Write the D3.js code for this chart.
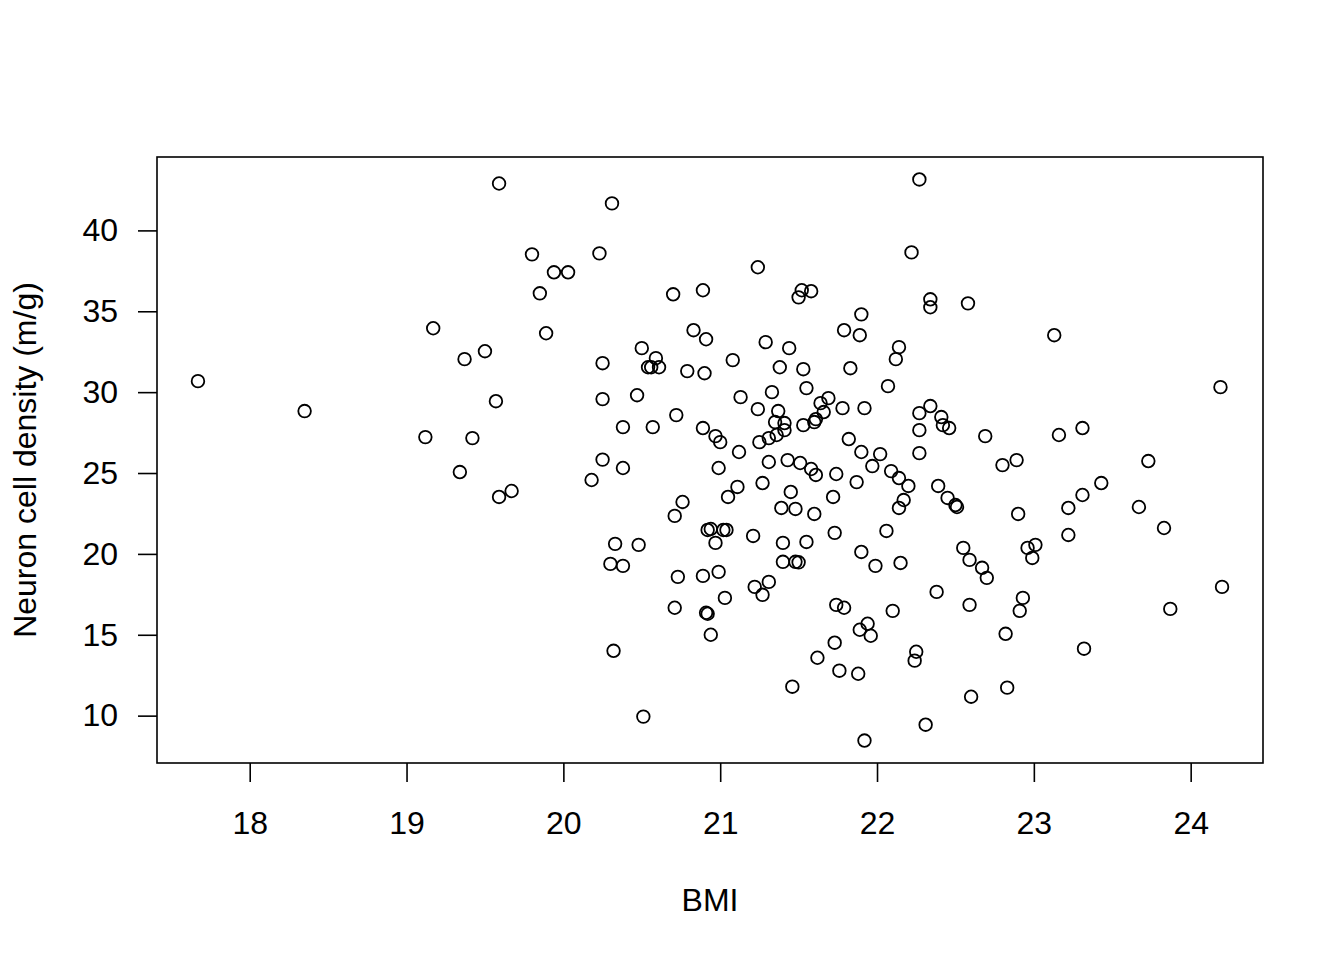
<!DOCTYPE html>
<html>
<head>
<meta charset="utf-8">
<script src="https://cdn.jsdelivr.net/npm/d3@7.9.0/dist/d3.min.js"></script>
<style>
  body { margin: 0; background: #fff; }
  svg text { font-family: "Liberation Sans", Arial, sans-serif; fill: #000; }
</style>
</head>
<body>
<svg id="chart" width="1344" height="960"></svg>
<script>
// BMI values
const bmi = [
  17.67, 18.35, 19.12, 19.17, 19.34, 19.37, 19.42, 19.50, 19.57, 19.59,
  19.59, 19.67, 19.80, 19.85, 19.89, 19.94, 20.03, 20.18, 20.23, 20.25,
  20.25, 20.25, 20.31, 20.30, 20.33, 20.32, 20.38, 20.38, 20.38, 20.47,
  20.48, 20.50, 20.51, 20.54, 20.56, 20.59, 20.61, 20.57, 20.70, 20.89,
  20.83, 20.91, 20.79, 20.90, 20.72, 20.89, 20.76, 20.71, 20.92, 20.73,
  20.89, 20.71, 20.91, 20.92, 20.94, 22.27, 22.22, 21.24, 21.52, 21.50,
  21.58, 22.34, 22.34, 22.58, 21.90, 21.79, 21.89, 21.29, 21.44, 22.14,
  21.08, 22.12, 21.38, 21.53, 21.83, 22.07, 21.33, 21.55, 21.13, 21.69,
  21.64, 21.66, 21.24, 21.37, 21.78, 21.92, 22.34, 22.27, 22.41, 22.42,
  22.46, 22.27, 21.35, 21.41, 21.41, 21.61, 21.60, 21.53, 20.97, 21.00,
  21.36, 21.31, 21.25, 21.82, 22.27, 21.90, 22.02, 21.12, 20.99, 21.97,
  21.31, 21.43, 21.51, 21.58, 21.61, 21.74, 21.87, 22.09, 22.14, 22.20,
  22.39, 22.45, 22.50, 22.51, 21.11, 21.05, 21.27, 21.45, 21.39, 21.48,
  21.60, 21.72, 22.17, 22.14, 20.94, 21.02, 21.04, 20.97, 21.21, 21.40,
  21.55, 21.73, 22.06, 21.90, 22.55, 20.99, 21.40, 21.48, 21.50, 21.99,
  22.15, 22.59, 21.22, 21.31, 21.27, 21.03, 22.38, 22.59, 21.74, 21.79,
  22.10, 21.94, 21.89, 21.96, 21.73, 22.25, 22.24, 21.62, 21.76, 21.88,
  21.46, 22.60, 22.31, 21.92, 24.19, 23.31, 22.69, 23.16, 22.89, 22.80,
  23.73, 23.43, 23.31, 23.22, 23.67, 22.90, 23.83, 23.22, 22.96, 23.01,
  22.99, 22.67, 22.70, 24.20, 22.93, 22.91, 23.87, 22.82, 23.32, 22.83,
  23.13
];

// Neuron cell density (m/g), same order as bmi
const density = [
  30.68, 28.83, 27.22, 33.95, 25.06, 32.04, 27.16, 32.53, 29.44, 23.52,
  42.90, 23.89, 38.52, 36.11, 33.64, 37.41, 37.41, 24.57, 38.58, 31.79,
  25.83, 29.57, 41.67, 19.38, 20.62, 14.01, 25.31, 19.26, 27.84, 29.81,
  20.56, 32.72, 9.94, 31.54, 31.54, 32.10, 31.54, 27.84, 36.05, 36.30,
  33.83, 33.27, 31.30, 31.17, 28.58, 27.78, 23.21, 22.35, 21.48, 18.58,
  18.64, 16.67, 16.36, 16.30, 15.00, 43.15, 38.64, 37.72, 36.30, 35.86,
  36.24, 35.74, 35.25, 35.49, 34.81, 33.83, 33.52, 33.09, 32.72, 32.78,
  31.98, 32.04, 31.54, 31.42, 31.48, 30.37, 30.00, 30.25, 29.69, 29.63,
  29.32, 28.77, 28.95, 28.83, 29.01, 29.01, 29.14, 28.70, 28.46, 27.96,
  27.78, 27.65, 28.15, 28.09, 27.65, 28.33, 28.15, 27.96, 27.28, 26.91,
  27.35, 27.16, 26.91, 27.10, 26.23, 26.30, 26.17, 26.30, 25.31, 25.43,
  25.68, 25.80, 25.62, 25.25, 24.88, 24.94, 24.44, 25.12, 24.69, 24.20,
  24.20, 23.46, 23.02, 22.90, 24.14, 23.52, 24.38, 23.83, 22.84, 22.78,
  22.47, 23.52, 23.33, 22.84, 21.54, 21.48, 21.48, 20.68, 21.11, 20.68,
  20.74, 21.30, 21.42, 20.12, 20.37, 18.89, 19.51, 19.51, 19.48, 19.26,
  19.44, 19.63, 17.96, 18.27, 17.47, 17.28, 17.65, 16.85, 16.85, 16.67,
  16.48, 15.68, 15.31, 14.94, 14.51, 13.95, 13.40, 13.58, 12.78, 12.59,
  11.79, 11.17, 9.44, 8.46, 30.31, 27.78, 27.28, 27.35, 25.80, 25.49,
  25.74, 24.38, 23.64, 22.84, 22.90, 22.47, 21.60, 21.17, 20.37, 20.56,
  19.75, 19.14, 18.52, 17.96, 17.28, 16.48, 16.60, 15.06, 14.14, 11.73,
  33.52
];

const xTicks = [18, 19, 20, 21, 22, 23, 24];
const yTicks = [10, 15, 20, 25, 30, 35, 40];

const xLabel = 'BMI';
const yLabel = 'Neuron cell density (m/g)';

// Layout
const plot = { left: 157, top: 157, right: 1263, bottom: 763 };
const fontSize = 32;

const svg = d3.select('#chart');

// R style: pad the data range by 4% on each side
function padded(values) {
  const [lo, hi] = d3.extent(values);
  const d = (hi - lo) * 0.04;
  return [lo - d, hi + d];
}

const x = d3.scaleLinear().domain(padded(bmi)).range([plot.left, plot.right]);
const y = d3.scaleLinear().domain(padded(density)).range([plot.bottom, plot.top]);

// X axis
const xAxis = svg.append('g')
  .attr('transform', `translate(0,${plot.bottom})`)
  .call(d3.axisBottom(x).tickValues(xTicks).tickSize(19).tickPadding(29).tickFormat(d3.format('d')));
xAxis.select('.domain').remove();
xAxis.selectAll('line').attr('stroke', '#000').attr('stroke-width', 1.6);
xAxis.selectAll('text')
  .attr('font-size', fontSize)
  .attr('font-family', '"Liberation Sans", Arial, sans-serif')
  .attr('fill', '#000');

// Y axis
const yAxis = svg.append('g')
  .attr('transform', `translate(${plot.left},0)`)
  .call(d3.axisLeft(y).tickValues(yTicks).tickSize(19).tickPadding(20).tickFormat(d3.format('d')));
yAxis.select('.domain').remove();
yAxis.selectAll('line').attr('stroke', '#000').attr('stroke-width', 1.6);
yAxis.selectAll('text')
  .attr('font-size', fontSize)
  .attr('font-family', '"Liberation Sans", Arial, sans-serif')
  .attr('fill', '#000');

// Plot frame
svg.append('rect')
  .attr('x', plot.left)
  .attr('y', plot.top)
  .attr('width', plot.right - plot.left)
  .attr('height', plot.bottom - plot.top)
  .attr('fill', 'none')
  .attr('stroke', '#000')
  .attr('stroke-width', 1.6);

// Points
svg.append('g')
  .selectAll('circle')
  .data(d3.zip(bmi, density))
  .enter()
  .append('circle')
  .attr('cx', d => x(d[0]))
  .attr('cy', d => y(d[1]))
  .attr('r', 6.3)
  .attr('fill', 'none')
  .attr('stroke', '#000')
  .attr('stroke-width', 1.8);

// Axis titles
svg.append('text')
  .attr('x', (plot.left + plot.right) / 2)
  .attr('y', 911)
  .attr('text-anchor', 'middle')
  .attr('font-size', fontSize)
  .text(xLabel);

svg.append('text')
  .attr('transform', `translate(36,${(plot.top + plot.bottom) / 2}) rotate(-90)`)
  .attr('text-anchor', 'middle')
  .attr('font-size', fontSize)
  .text(yLabel);
</script>
</body>
</html>
